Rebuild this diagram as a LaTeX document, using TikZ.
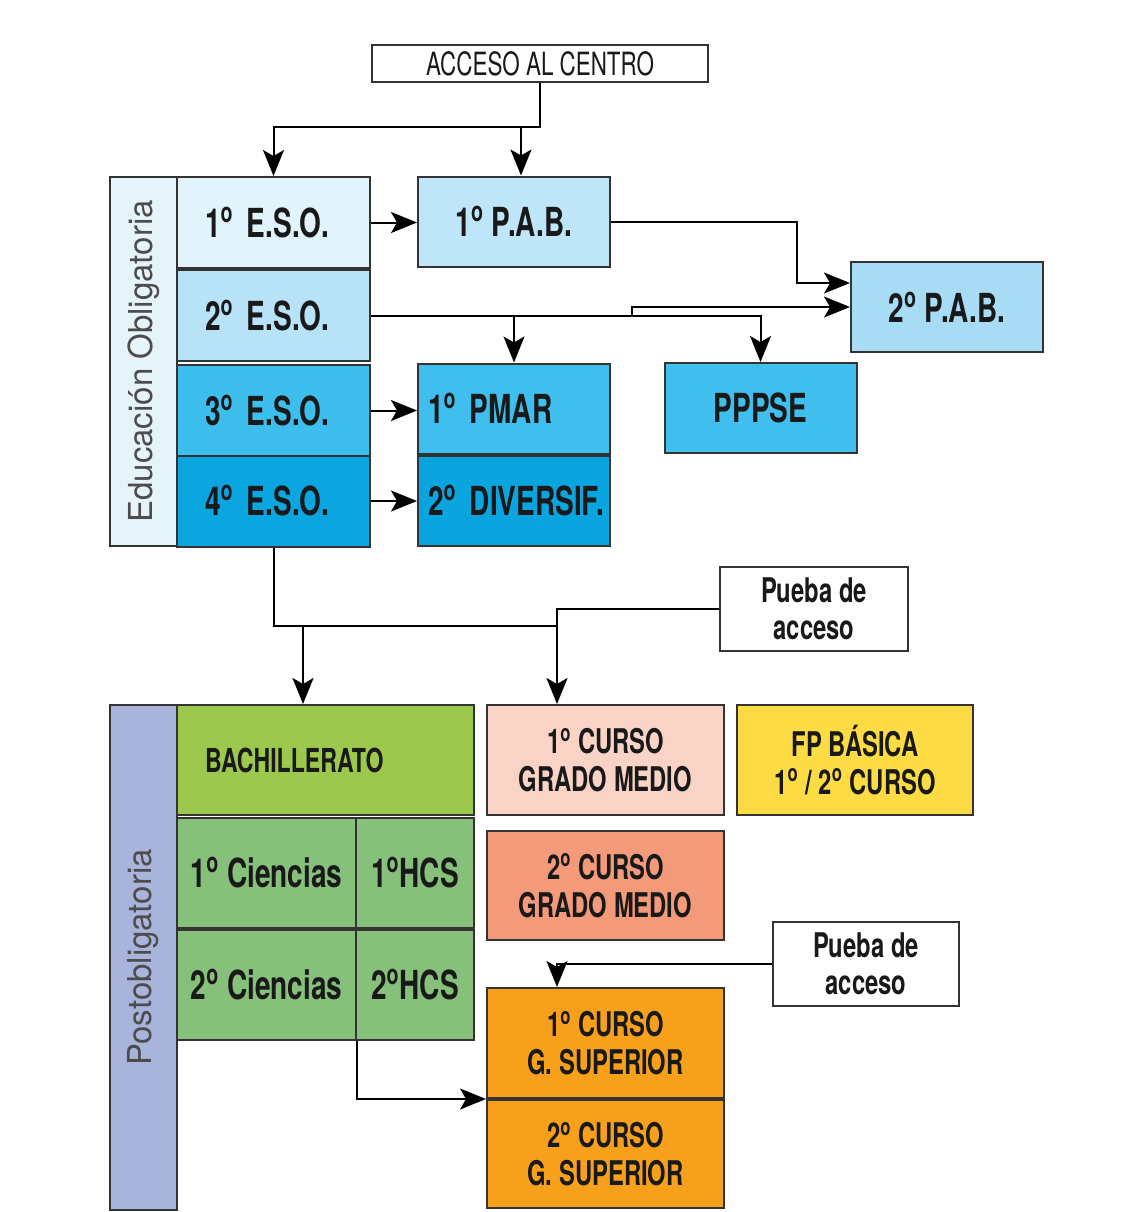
\documentclass[tikz,border=0pt]{standalone}
\usepackage{fontspec}
\setmainfont{TeX Gyre Heros}
\newfontfamily\condfont{TeX Gyre Heros}[FakeStretch=0.7]
\usetikzlibrary{arrows.meta,calc}

\definecolor{eduside}{HTML}{E6F4FA}
\definecolor{postside}{HTML}{A9B4DC}
\definecolor{esoA}{HTML}{E1F3FB}
\definecolor{esoB}{HTML}{B7E2F7}
\definecolor{esoC}{HTML}{3DBEEC}
\definecolor{esoD}{HTML}{0BA5DF}
\definecolor{pabA}{HTML}{BEE5F8}
\definecolor{pabB}{HTML}{A8DCF5}
\definecolor{pmarc}{HTML}{40BFEE}
\definecolor{divc}{HTML}{0AA5DF}
\definecolor{bachc}{HTML}{9CC84E}
\definecolor{cienc}{HTML}{86C07B}
\definecolor{gmA}{HTML}{F9D4C6}
\definecolor{gmB}{HTML}{F29A7A}
\definecolor{fpbc}{HTML}{FCDB45}
\definecolor{gsc}{HTML}{F6A01C}

\newcommand{\ordo}{\textsuperscript{o}}

\begin{document}
\begin{tikzpicture}[x=0.5pt,y=-0.5pt,line width=1pt,>={Stealth[length=13pt,width=10.5pt,inset=3pt]},
  block/.style={rectangle, draw=black!80, line width=1pt, inner sep=0pt, align=center, text=black!90, font=\condfont\bfseries\fontsize{20}{22}\selectfont},
  eso/.style={block, minimum width=96.5pt, minimum height=45.5pt, text width=68.5pt, inner xsep=14pt, align=left},
  mid/.style={block, minimum width=96pt, minimum height=45pt},
  midl/.style={mid, text width=86pt, inner xsep=5pt, align=left},
  course/.style={block, minimum width=118.5pt, minimum height=55pt, font=\condfont\bfseries\fontsize{17}{19}\selectfont},
  note/.style={block, fill=white, minimum height=42pt, font=\condfont\bfseries\fontsize{17}{18.5}\selectfont},
  side/.style={rectangle, draw=black!80, line width=1pt, rotate=90, inner sep=0pt, minimum height=33.5pt, text=black!70, font=\fontsize{16.5}{18}\selectfont}]
\useasboundingbox (0,0) rectangle (1126,1212);

% obligatoria
\draw (540,63.5) node[block, minimum width=168pt, minimum height=18.5pt, font=\condfont\fontsize{16}{18}\selectfont] (acceso) {ACCESO AL CENTRO};
\draw (143.5,361.5) node[side, fill=eduside, minimum width=184.5pt] (obl) {Educación Obligatoria};
\draw (273.5,222.5) node[eso, fill=esoA] (eso1) {1\ordo{} E.S.O.};
\draw (273.5,315.5) node[eso, fill=esoB] (eso2) {2\ordo{} E.S.O.};
\draw (273.5,410.5) node[eso, fill=esoC] (eso3) {3\ordo{} E.S.O.};
\draw (273.5,501) node[eso, fill=esoD] (eso4) {4\ordo{} E.S.O.};
\draw (514,221.5) node[mid, fill=pabA] (pab1) {1\ordo{} P.A.B.};
\draw (947,307) node[mid, fill=pabB] (pab2) {2\ordo{} P.A.B.};
\draw (514,408.5) node[midl, fill=pmarc] (pmar) {\mbox{1\ordo{} PMAR}};
\draw (514,501) node[midl, fill=divc] (div) {\mbox{2\ordo{} DIVERSIF.}};
\draw (760.5,408) node[mid, fill=pmarc] (pppse) {PPPSE};
\draw (814,609) node[note, minimum width=94pt] (pueba1) {Pueba de\\acceso};

% postobligatoria
\draw (143.5,957.5) node[side, fill=postside, minimum width=252.5pt] (post) {Postobligatoria};
\draw (325.5,760) node[block, fill=bachc, minimum width=148.5pt, minimum height=55pt, text width=120.5pt, inner xsep=14pt, align=left, font=\condfont\bfseries\fontsize{16.5}{18}\selectfont] (bach) {BACHILLERATO};
\draw (266.5,873) node[block, fill=cienc, minimum width=89.5pt, minimum height=55pt] (cien1) {1\ordo{} Ciencias};
\draw (415,873) node[block, fill=cienc, minimum width=59pt, minimum height=55pt] (hcs1) {1\ordo HCS};
\draw (266.5,985) node[block, fill=cienc, minimum width=89.5pt, minimum height=55pt] (cien2) {2\ordo{} Ciencias};
\draw (415,985) node[block, fill=cienc, minimum width=59pt, minimum height=55pt] (hcs2) {2\ordo HCS};
\draw (605.5,760) node[course, fill=gmA] (gm1) {1\ordo{} CURSO\\GRADO MEDIO};
\draw (855,760) node[course, fill=fpbc, minimum width=118pt] (fpb) {FP BÁSICA\\1\ordo{} / 2\ordo{} CURSO};
\draw (605.5,885.5) node[course, fill=gmB, minimum height=54.5pt] (gm2) {2\ordo{} CURSO\\GRADO MEDIO};
\draw (866,964) node[note, minimum width=93pt] (pueba2) {Pueba de\\acceso};
\draw (605.5,1043) node[course, fill=gsc] (gs1) {1\ordo{} CURSO\\G. SUPERIOR};
\draw (605.5,1154) node[course, fill=gsc, minimum height=54pt] (gs2) {2\ordo{} CURSO\\G. SUPERIOR};

% flechas
\coordinate (j1) at (540,127);
\coordinate (j2) at (521,127);
\coordinate (j3) at (797,283);
\coordinate (j4) at (632,315.5);
\coordinate (j5) at (557,626);
\coordinate (j6) at (303,626);
\draw [->] (acceso.south) -- (j1) -| (eso1.north);
\draw [->] (j2) -- (j2 |- pab1.north);
\draw [->] (eso1.east) -- (eso1.east -| pab1.west);
\draw [->] (pab1.east) -| (j3) -- (j3 -| pab2.west);
\draw [->] (eso2.east) -| (pppse.north);
\draw [->] (eso2.east -| pmar.north) -- (pmar.north);
\draw [->] (j4) |- (pab2.west);
\draw [->] (eso3.east) -- (eso3.east -| pmar.west);
\draw [->] (eso4.east) -- (eso4.east -| div.west);
\draw (eso4.south) |- (j5);
\draw [->] (j6) -- (j6 |- bach.north);
\draw [->] (pueba1.west) -| (j5) -- (j5 |- gm1.north);
\draw [->] (pueba2.west) -| (j5 |- gs1.north);
\draw [->] (cien2.south east) |- (gs1.south west);

\end{tikzpicture}
\end{document}
